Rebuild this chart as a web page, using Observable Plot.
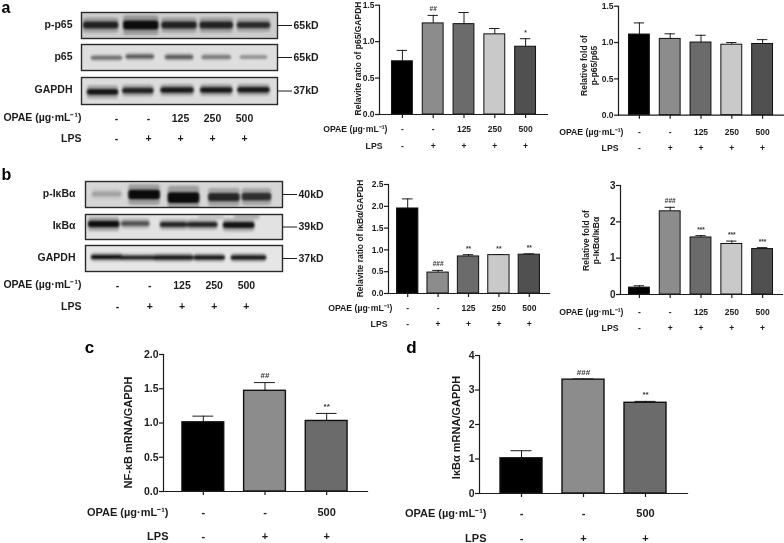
<!DOCTYPE html>
<html><head><meta charset="utf-8">
<script src="https://cdn.jsdelivr.net/npm/d3@7"></script>
<script src="https://cdn.jsdelivr.net/npm/@observablehq/plot@0.6"></script>
<style>
html,body{margin:0;padding:0;background:#fff}
#page{position:relative;width:784px;height:543px;overflow:hidden;filter:blur(0.35px)}
svg.blot g[aria-label="rect"]{filter:blur(1.3px)}
</style></head><body><div id="page"></div>
<script>
const FONT = "'Liberation Sans', Arial, sans-serif";
const INK = "#1c1c1c";

// Shared tick labels
const opaeFive = ["-", "-", "125", "250", "500"];
const lpsFive = ["-", "+", "+", "+", "+"];
const opaeThree = ["-", "-", "500"];
const lpsThree = ["-", "+", "+"];
const fillFive = ["#000000", "#8c8c8c", "#6b6b6b", "#c9c9c9", "#505050"];
const fillThree = ["#000000", "#8c8c8c", "#6b6b6b"];
const opaeTitle = "OPAE (µg·mL⁻¹)";

// Bar values
const a1Values = [0.73, 1.25, 1.24, 1.10, 0.93];
const a1Upper = [0.88, 1.36, 1.40, 1.18, 1.04];
const a1Sig = ["", "##", "", "", "*"];
const a2Values = [1.11, 1.05, 1.00, 0.97, 0.98];
const a2Upper = [1.27, 1.12, 1.10, 1.00, 1.04];
const a2Sig = ["", "", "", "", ""];
const b1Values = [1.95, 0.48, 0.85, 0.88, 0.89];
const b1Upper = [2.17, 0.53, 0.89, 0.89, 0.91];
const b1Sig = ["", "###", "**", "**", "**"];
const b2Values = [0.19, 2.29, 1.57, 1.39, 1.25];
const b2Upper = [0.24, 2.40, 1.62, 1.47, 1.29];
const b2Sig = ["", "###", "***", "***", "***"];
const cValues = [1.01, 1.47, 1.03];
const cUpper = [1.10, 1.59, 1.14];
const cSig = ["", "##", "**"];
const dValues = [1.02, 3.30, 2.63];
const dUpper = [1.24, 3.32, 2.67];
const dSig = ["", "###", "**"];

// Blot bands: percent of membrane width/height, tone = band gray
const pp65Center = [10, 30.5, 50, 69, 88];
const pp65Width = [18, 18, 18, 17, 17];
const pp65Thick = [26, 34, 26, 26, 24];
const pp65Tone = ["#222", "#0c0c0c", "#222", "#222", "#2a2a2a"];
const pp65Y = [50, 50, 50, 50, 50];
const p65Center = [13, 30, 50, 69, 88];
const p65Width = [16, 14.5, 14.5, 15, 14];
const p65Thick = [12, 14, 14, 12, 10];
const p65Tone = ["#666", "#555", "#555", "#707070", "#858585"];
const p65Y = [53, 48, 50, 50, 50];
const gapA1Center = [11, 29, 49, 69, 88];
const gapA1Width = [16, 16, 17, 16.5, 16.5];
const gapA1Thick = [22, 20, 20, 20, 20];
const gapA1Tone = ["#161616", "#222", "#1a1a1a", "#1a1a1a", "#1a1a1a"];
const gapA1Y = [55, 50, 48, 48, 47];
const pIkbCenter = [11, 30, 50, 70.5, 87];
const pIkbWidth = [15, 16, 16, 16, 15];
const pIkbThick = [18, 36, 42, 32, 30];
const pIkbTone = ["#a0a0a0", "#0a0a0a", "#0a0a0a", "#262626", "#2e2e2e"];
const pIkbY = [50, 52, 64, 62, 60];
const ikbCenter = [9.5, 25.5, 45, 59.5, 78, 64, 82];
const ikbWidth = [16, 14.5, 14, 15.5, 16, 13, 13];
const ikbThick = [26, 20, 20, 20, 24, 10, 14];
const ikbTone = ["#0e0e0e", "#555", "#262626", "#262626", "#141414", "#bbb", "#aaa"];
const ikbY = [40, 38, 42, 42, 44, 13, 11];
const gapB1Center = [11, 27, 45, 63, 83];
const gapB1Width = [16, 18, 20, 16, 18];
const gapB1Thick = [16, 14, 16, 15, 16];
const gapB1Tone = ["#111", "#1c1c1c", "#151515", "#151515", "#151515"];
const gapB1Y = [46, 48, 48, 48, 48];

const page = document.getElementById("page");

function note(box, margin, text, px, py, opts = {}) {
  return Plot.text([text], {
    text: d => d,
    frameAnchor: "top-left",
    textAnchor: "start",
    lineAnchor: "middle",
    dx: px - (box.left + margin.left),
    dy: py - (box.top + margin.top),
    fontWeight: "bold",
    fill: INK,
    ...opts
  });
}

function barPanel(p) {
  const rows = p.values.map((v, i) => ({i, v, up: p.upper[i], sig: p.sig[i], fill: p.fills[i], opae: p.opae[i], lps: p.lps[i]}));
  const box = p.box;
  const margin = {left: p.axisL - box.left, right: box.left + box.width - p.axisR, top: p.yT - box.top, bottom: box.top + box.height - p.yB};
  const step = p.centers[1] - p.centers[0];
  const pi = 1 - p.barW / step;
  const at = (t, x, y, o) => note(box, margin, t, x, y, o);
  const n = rows.length;
  const marks = [
    Plot.ruleX(rows, {x: "i", y1: "v", y2: "up", stroke: INK, strokeWidth: 1}),
    Plot.tickY(rows, {x: "i", y: "up", stroke: INK, strokeWidth: 1, insetLeft: p.barW / 4, insetRight: p.barW / 4}),
    Plot.barY(rows, {x: "i", y: "v", fill: "fill", stroke: "#111", strokeWidth: p.barStroke}),
    Plot.axisY({ticks: p.ticks, tickFormat: p.fmt, tickSize: 4, tickPadding: 1, fontSize: p.tick, fontWeight: "bold", stroke: INK, strokeWidth: 1.2, fill: INK, label: null}),
    Plot.axisX({tickSize: 4, tickFormat: () => "", stroke: INK, strokeWidth: 1.2, label: null}),
    Plot.frame({anchor: "left", stroke: INK, strokeWidth: 1.2}),
    Plot.frame({anchor: "bottom", stroke: INK, strokeWidth: 1.2}),
    Plot.text(rows, {x: "i", y: "up", text: "sig", dy: p.sigDy, fontSize: p.sigSize, fontWeight: "bold", fill: "#333"}),
    Plot.text(rows, {x: "i", text: "opae", frameAnchor: "bottom", lineAnchor: "middle", dy: p.opaeY - p.yB, fontSize: p.row, fontWeight: "bold", fill: INK}),
    Plot.text(rows, {x: "i", text: "lps", frameAnchor: "bottom", lineAnchor: "middle", dy: p.lpsY - p.yB, fontSize: p.row, fontWeight: "bold", fill: INK}),
    at(opaeTitle, p.rowLabelX[0], p.opaeY, {textAnchor: "end", fontSize: p.rowTitle}),
    at("LPS", p.rowLabelX[1], p.lpsY, {textAnchor: "end", fontSize: p.rowTitle}),
    at(p.title, p.titleX, p.titleY, {rotate: -90, textAnchor: "middle", fontSize: p.titleSize, lineHeight: p.titleLH || 1.25})
  ];
  if (p.letter) marks.push(at(p.letter, p.letterX, p.letterY, {textAnchor: "middle", fontSize: 17, fill: "#000"}));
  const svg = Plot.plot({
    width: box.width, height: box.height,
    marginLeft: margin.left, marginRight: margin.right, marginTop: margin.top, marginBottom: margin.bottom,
    x: {type: "band", domain: d3.range(n), range: [p.centers[0] - step / 2 - box.left, p.centers[n - 1] + step / 2 - box.left], paddingInner: pi, paddingOuter: pi / 2, round: false},
    y: {domain: [0, p.max]},
    style: {position: "absolute", left: box.left + "px", top: box.top + "px", background: "transparent", fontFamily: FONT, overflow: "visible"},
    marks
  });
  page.appendChild(svg);
}

function blot(b) {
  const box = {left: b.x0 - 81, top: b.y0 - 6, width: b.x1 - b.x0 + 81 + 50, height: b.y1 - b.y0 + 12};
  const margin = {left: 81, right: 50, top: 6, bottom: 6};
  const rows = b.center.map((c, i) => ({c, w: b.width[i], t: b.thick[i], tone: b.tone[i], y: b.y[i]}));
  const rx = {x1: d => d.c - d.w / 2, x2: d => d.c + d.w / 2, rx: 3, clip: "frame"};
  const at = (t, x, y, o) => note(box, margin, t, x, y, o);
  const midY = b.tickY;
  const marks = [
    Plot.frame({fill: b.bg, stroke: "none"}),
    Plot.rect(rows, {...rx, y1: d => d.y - d.t * 1.1, y2: d => d.y + d.t * 1.1, fill: "tone", fillOpacity: 0.28}),
    Plot.rect(rows, {...rx, y1: d => d.y - d.t / 2, y2: d => d.y + d.t / 2, fill: "tone"}),
    Plot.frame({stroke: "#2a2a2a", strokeWidth: 1.4}),
    Plot.ruleY([midY], {x1: 100, x2: 100 + 15 / (b.x1 - b.x0) * 100, stroke: INK, strokeWidth: 1}),
    at(b.label, b.labelX, (b.y0 + b.y1) / 2 - 1, {textAnchor: "end", fontSize: 10.5}),
    at(b.kd, b.x1 + 16, b.y0 + (b.y1 - b.y0) * midY / 100, {textAnchor: "start", fontSize: 10.5})
  ];
  if (b.letter) marks.push(at(b.letter, 1, b.letterY, {fontSize: 16, fill: "#000", textAnchor: "start"}));
  const svg = Plot.plot({
    className: "blot",
    width: box.width, height: box.height,
    marginLeft: margin.left, marginRight: margin.right, marginTop: margin.top, marginBottom: margin.bottom,
    x: {type: "linear", domain: [0, 100], axis: null},
    y: {type: "linear", domain: [100, 0], axis: null},
    style: {position: "absolute", left: box.left + "px", top: box.top + "px", background: "transparent", fontFamily: FONT, overflow: "visible"},
    marks
  });
  page.appendChild(svg);
}

function laneRows(r) {
  const rows = opaeFive.map((o, i) => ({i, o, l: lpsFive[i]}));
  const box = {left: 0, top: r.top, width: 320, height: r.height};
  const margin = {left: 0, top: 0};
  const at = (t, x, y, o) => note(box, margin, t, x, y, o);
  const svg = Plot.plot({
    width: box.width, height: box.height, margin: 0,
    x: {type: "point", domain: d3.range(5), range: [r.centers[0], r.centers[4]], round: false, axis: null},
    style: {position: "absolute", left: "0px", top: r.top + "px", background: "transparent", fontFamily: FONT, overflow: "visible"},
    marks: [
      Plot.text(rows, {x: "i", text: "o", frameAnchor: "top", lineAnchor: "middle", dy: r.opaeY - r.top, fontSize: 10.5, fontWeight: "bold", fill: INK}),
      Plot.text(rows, {x: "i", text: "l", frameAnchor: "top", lineAnchor: "middle", dy: r.lpsY - r.top, fontSize: 10.5, fontWeight: "bold", fill: INK}),
      at(opaeTitle, 81, r.opaeY - 1, {textAnchor: "end", fontSize: 10.5}),
      at("LPS", 81, r.lpsY, {textAnchor: "end", fontSize: 10.5})
    ]
  });
  page.appendChild(svg);
}

// Blots, panel a
blot({x0: 81, x1: 277, y0: 12, y1: 38, bg: "#cdcdcd", label: "p-p65", labelX: 72, kd: "65kD", tickY: 50, letter: "a", letterY: 7.5,
  center: pp65Center, width: pp65Width, thick: pp65Thick, tone: pp65Tone, y: pp65Y});
blot({x0: 81, x1: 277, y0: 44, y1: 70, bg: "#dedede", label: "p65", labelX: 72, kd: "65kD", tickY: 50,
  center: p65Center, width: p65Width, thick: p65Thick, tone: p65Tone, y: p65Y});
blot({x0: 81, x1: 277, y0: 77, y1: 104, bg: "#dcdcdc", label: "GAPDH", labelX: 72, kd: "37kD", tickY: 50,
  center: gapA1Center, width: gapA1Width, thick: gapA1Thick, tone: gapA1Tone, y: gapA1Y});
laneRows({top: 108, height: 40, centers: [100, 140, 180, 220, 260], opaeY: 118, lpsY: 138});

// Blots, panel b
blot({x0: 85, x1: 282, y0: 181, y1: 207, bg: "#d6d6d6", label: "p-IκBα", labelX: 75, kd: "40kD", tickY: 50, letter: "b", letterY: 174,
  center: pIkbCenter, width: pIkbWidth, thick: pIkbThick, tone: pIkbTone, y: pIkbY});
blot({x0: 85, x1: 282, y0: 214, y1: 239, bg: "#e2e2e2", label: "IκBα", labelX: 75, kd: "39kD", tickY: 50,
  center: ikbCenter, width: ikbWidth, thick: ikbThick, tone: ikbTone, y: ikbY});
blot({x0: 85, x1: 282, y0: 245, y1: 271, bg: "#e6e6e6", label: "GAPDH", labelX: 75, kd: "37kD", tickY: 50,
  center: gapB1Center, width: gapB1Width, thick: gapB1Thick, tone: gapB1Tone, y: gapB1Y});
laneRows({top: 275, height: 40, centers: [101, 141, 182, 222, 262], opaeY: 285, lpsY: 306});

const five = {fills: fillFive, opae: opaeFive, lps: lpsFive, barW: 21, barStroke: 1, tick: 8.5, row: 8.5, rowTitle: 8.7, titleSize: 8.5, sigDy: -6, sigSize: 6.5};
const three = {fills: fillThree, opae: opaeThree, lps: lpsThree, barW: 42, barStroke: 1.4, tick: 10.5, row: 11, rowTitle: 11, titleSize: 11, sigDy: -7, sigSize: 8};

barPanel({...five, box: {left: 310, top: 0, width: 245, height: 156}, axisL: 379, axisR: 547, yB: 114, yT: 4.7, max: 1.5, ticks: [0, 0.5, 1, 1.5], fmt: ".1f",
  centers: [402, 433, 464, 495, 525], values: a1Values, upper: a1Upper, sig: a1Sig, opaeY: 129, lpsY: 146, rowLabelX: [387, 382],
  title: "Relavite ratio of p65/GAPDH", titleX: 357, titleY: 58});
barPanel({...five, box: {left: 555, top: 0, width: 229, height: 156}, axisL: 618, axisR: 783, yB: 114.7, yT: 5.7, max: 1.5, ticks: [0, 0.5, 1, 1.5], fmt: ".1f",
  centers: [639, 670, 700, 731, 762], values: a2Values, upper: a2Upper, sig: a2Sig, opaeY: 132, lpsY: 148, rowLabelX: [623, 618],
  title: "Relative fold of\np-p65/p65", titleX: 588, titleY: 65});
barPanel({...five, box: {left: 310, top: 170, width: 245, height: 165}, axisL: 388, axisR: 549, yB: 293, yT: 184, max: 2.5, ticks: [0, 0.5, 1, 1.5, 2, 2.5], fmt: ".1f",
  centers: [407, 437, 468, 499, 529], values: b1Values, upper: b1Upper, sig: b1Sig, opaeY: 308, lpsY: 324, rowLabelX: [392, 387],
  title: "Relavite ratio of IκBα/GAPDH", titleX: 359, titleY: 238});
barPanel({...five, box: {left: 555, top: 170, width: 229, height: 165}, axisL: 620, axisR: 782, yB: 294, yT: 185, max: 3, ticks: [0, 1, 2, 3], fmt: "d", tick: 10,
  centers: [639, 670, 700, 731, 762], values: b2Values, upper: b2Upper, sig: b2Sig, opaeY: 312, lpsY: 328, rowLabelX: [623, 618],
  title: "Relative fold of\np-IκBα/IκBα", titleX: 590, titleY: 240});
barPanel({...three, box: {left: 80, top: 340, width: 295, height: 203}, axisL: 163, axisR: 367, yB: 491, yT: 354, max: 2, ticks: [0, 0.5, 1, 1.5, 2], fmt: ".1f",
  centers: [203, 265, 326], values: cValues, upper: cUpper, sig: cSig, opaeY: 512, lpsY: 536, rowLabelX: [168, 168],
  title: "NF-κB mRNA/GAPDH", titleX: 127, titleY: 432, letter: "c", letterX: 89, letterY: 347});
barPanel({...three, box: {left: 400, top: 340, width: 295, height: 203}, axisL: 479, axisR: 687, yB: 493, yT: 355, max: 4, ticks: [0, 1, 2, 3, 4], fmt: "d",
  centers: [521, 583, 645], values: dValues, upper: dUpper, sig: dSig, opaeY: 513, lpsY: 538, rowLabelX: [486, 486],
  title: "IκBα mRNA/GAPDH", titleX: 455, titleY: 427, letter: "d", letterX: 411, letterY: 347});
</script></body></html>
